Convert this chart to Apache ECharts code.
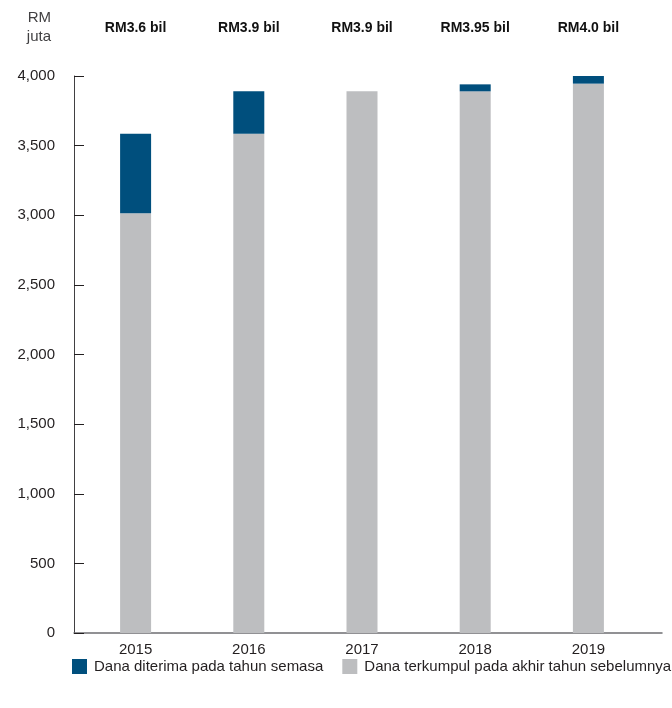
<!DOCTYPE html>
<html>
<head>
<meta charset="utf-8">
<script src="https://cdn.jsdelivr.net/npm/echarts@6/dist/echarts.min.js"></script>
<style>
  html, body { margin: 0; padding: 0; background: #ffffff; }
  #chart { width: 672px; height: 708px; }
</style>
</head>
<body>
<div id="chart"></div>
<script>
// Tabung: dana terkumpul dan dana diterima (RM juta)
var years = ['2015', '2016', '2017', '2018', '2019'];
var totalLabels = ['RM3.6 bil', 'RM3.9 bil', 'RM3.9 bil', 'RM3.95 bil', 'RM4.0 bil'];
var collectedPrevYearEnd = [3015, 3585, 3890, 3890, 3945];
var receivedThisYear = [570, 305, 0, 50, 55];
var yTicks = { min: 0, max: 4000, interval: 500 };

var FONT = "'Liberation Sans', Arial, sans-serif";
var TEXT = '#231f20';
var BLUE = '#004f7d';
var GREY = '#bdbec0';

var chart = echarts.init(document.getElementById('chart'), null, { renderer: 'canvas' });

chart.setOption({
  animation: false,
  backgroundColor: '#ffffff',
  textStyle: { fontFamily: FONT, color: TEXT },
  grid: [
    { left: 79, right: 27, top: 76, bottom: 75 },
    { left: 74, right: 10, top: 76, bottom: 75 }
  ],
  legend: {
    left: 72,
    top: 659,
    padding: 0,
    width: 1200,
    itemWidth: 15,
    itemHeight: 15,
    itemGap: 19,
    icon: 'rect',
    data: ['Dana diterima pada tahun semasa', 'Dana terkumpul pada akhir tahun sebelumnya'],
    textStyle: { fontFamily: FONT, fontSize: 15, color: TEXT, padding: [0, 0, 0, 2] }
  },
  xAxis: [
    {
      type: 'category',
      gridIndex: 0,
      data: years,
      axisLine: { show: false },
      axisTick: { show: false },
      axisLabel: { fontFamily: FONT, fontSize: 15, color: TEXT, margin: 9 }
    },
    {
      type: 'category',
      gridIndex: 0,
      position: 'top',
      data: totalLabels,
      axisLine: { show: false },
      axisTick: { show: false },
      axisLabel: { fontFamily: FONT, fontSize: 14, fontWeight: 'bold', color: '#111111', margin: 41 }
    },
    {
      type: 'value',
      gridIndex: 1,
      min: 0,
      max: 1,
      axisLine: { show: true, lineStyle: { color: '#6d6e71', width: 1.5 } },
      axisTick: { show: false },
      axisLabel: { show: false },
      splitLine: { show: false }
    }
  ],
  yAxis: [
    {
      type: 'value',
      gridIndex: 0,
      min: yTicks.min,
      max: yTicks.max,
      interval: yTicks.interval,
      offset: 5,
      name: 'RM\njuta',
      nameLocation: 'end',
      nameGap: 30,
      nameTextStyle: {
        fontFamily: FONT, fontSize: 15, color: '#414042',
        align: 'right', verticalAlign: 'bottom', lineHeight: 19,
        padding: [0, 23, 0, 0]
      },
      axisLine: { show: true, lineStyle: { color: '#414042', width: 1 } },
      axisTick: { show: true, inside: true, length: 10, lineStyle: { color: '#231f20' } },
      axisLabel: {
        fontFamily: FONT, fontSize: 15, color: TEXT, margin: 19,
        formatter: function (v) { return v.toLocaleString('en-US'); }
      },
      splitLine: { show: false }
    },
    {
      type: 'value',
      gridIndex: 1,
      show: false
    }
  ],
  series: [
    {
      name: 'Dana terkumpul pada akhir tahun sebelumnya',
      type: 'bar',
      xAxisIndex: 0,
      yAxisIndex: 0,
      stack: 'total',
      barWidth: 31,
      itemStyle: { color: GREY },
      data: collectedPrevYearEnd
    },
    {
      name: 'Dana diterima pada tahun semasa',
      type: 'bar',
      xAxisIndex: 0,
      yAxisIndex: 0,
      stack: 'total',
      barWidth: 31,
      itemStyle: { color: BLUE },
      data: receivedThisYear
    }
  ]
});
</script>
</body>
</html>
